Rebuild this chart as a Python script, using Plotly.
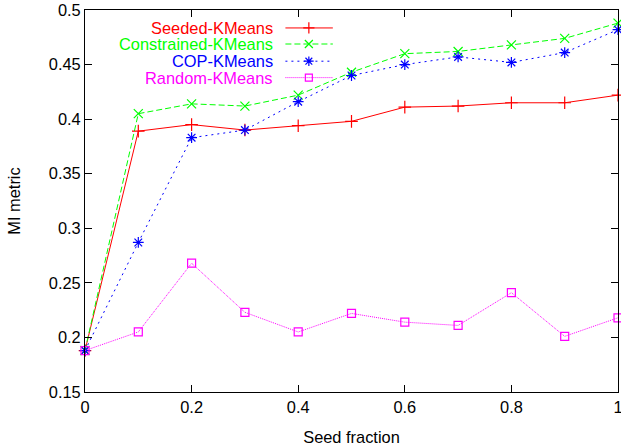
import plotly.graph_objects as go

seed_fraction = [0.0, 0.1, 0.2, 0.3, 0.4, 0.5, 0.6, 0.7, 0.8, 0.9, 1.0]
seeded = [0.188, 0.389, 0.395, 0.390, 0.394, 0.398, 0.411, 0.412, 0.415, 0.415, 0.422]
constrained = [0.188, 0.405, 0.414, 0.412, 0.422, 0.443, 0.460, 0.462, 0.468, 0.474, 0.488]
cop = [0.188, 0.287, 0.383, 0.390, 0.416, 0.440, 0.450, 0.457, 0.452, 0.461, 0.482]
random_km = [0.188, 0.205, 0.268, 0.223, 0.205, 0.222, 0.214, 0.211, 0.241, 0.201, 0.218]

names = ["Seeded-KMeans", "Constrained-KMeans", "COP-KMeans", "Random-KMeans"]
series = [seeded, constrained, cop, random_km]
colors = ["#ff0000", "#00ff00", "#0000ff", "#ff00ff"]
dashes = ["solid", "6px,3px", "2px,4px", "1px,1px"]
symbols = ["cross-thin-open", "x-thin-open", "asterisk-open", "square-open"]
sizes = [9, 9, 9, 8]

FONT = "Liberation Sans, Arial, Helvetica, sans-serif"
FS = 16.4

fig = go.Figure()
for name, ys, c, d, s, sz in zip(names, series, colors, dashes, symbols, sizes):
    fig.add_trace(go.Scatter(
        x=seed_fraction, y=ys, mode="lines+markers", name=name,
        line=dict(color=c, width=1, dash=d),
        marker=dict(symbol=s, size=sz, color=c, line=dict(color=c, width=1.2)),
        cliponaxis=False, showlegend=False,
    ))

# custom gnuplot-style legend (text right-aligned, key sample to the right)
leg_text_x = 0.357
leg_rows = [0.953, 0.911, 0.866, 0.823]
key_x0, key_xm, key_x1 = 0.376, 0.42, 0.465
for name, c, d, s, sz, ry in zip(names, colors, dashes, symbols, sizes, leg_rows):
    fig.add_annotation(x=leg_text_x, y=ry, xref="paper", yref="paper",
                       text=name, showarrow=False, xanchor="right", yanchor="middle",
                       font=dict(color=c, size=FS, family=FONT))
    fig.add_trace(go.Scatter(
        x=[key_x0, key_xm, key_x1], y=[ry, ry, ry], xaxis="x2", yaxis="y2",
        mode="lines", line=dict(color=c, width=1, dash=d),
        showlegend=False, hoverinfo="skip"))
    fig.add_trace(go.Scatter(
        x=[key_xm], y=[ry], xaxis="x2", yaxis="y2", mode="markers",
        marker=dict(symbol=s, size=sz - 1, color=c, line=dict(color=c, width=1.2)),
        showlegend=False, hoverinfo="skip"))

axis_common = dict(
    showline=True, linecolor="black", linewidth=1, mirror="allticks",
    ticks="inside", ticklen=7, tickcolor="black", tickwidth=1,
    showgrid=False, zeroline=False, ticklabeloverflow="allow", automargin=False,
    tickfont=dict(size=FS, family=FONT, color="black"),
)

fig.update_layout(
    width=621, height=447,
    margin=dict(l=85, r=3, t=10, b=55),
    paper_bgcolor="white", plot_bgcolor="white",
    font=dict(family=FONT, size=FS, color="black"),
    xaxis=dict(range=[0, 1], tickvals=[0, 0.2, 0.4, 0.6, 0.8, 1],
               ticktext=["0", "0.2", "0.4", "0.6", "0.8", "1"],
               title=dict(text="Seed fraction", font=dict(size=FS, family=FONT), standoff=16),
               **axis_common),
    yaxis=dict(range=[0.15, 0.5], tickvals=[0.15, 0.2, 0.25, 0.3, 0.35, 0.4, 0.45, 0.5],
               ticktext=["0.15", "0.2", "0.25", "0.3", "0.35", "0.4", "0.45", "0.5"],
               title=dict(text="MI metric", font=dict(size=FS, family=FONT), standoff=24),
               **axis_common),
    xaxis2=dict(range=[0, 1], overlaying="x", visible=False, fixedrange=True),
    yaxis2=dict(range=[0, 1], overlaying="y", visible=False, fixedrange=True),
    showlegend=False,
)

fig.write_html("out.html", config={"displayModeBar": False},
               post_script="document.body.style.margin='0';document.body.style.overflow='hidden';")
